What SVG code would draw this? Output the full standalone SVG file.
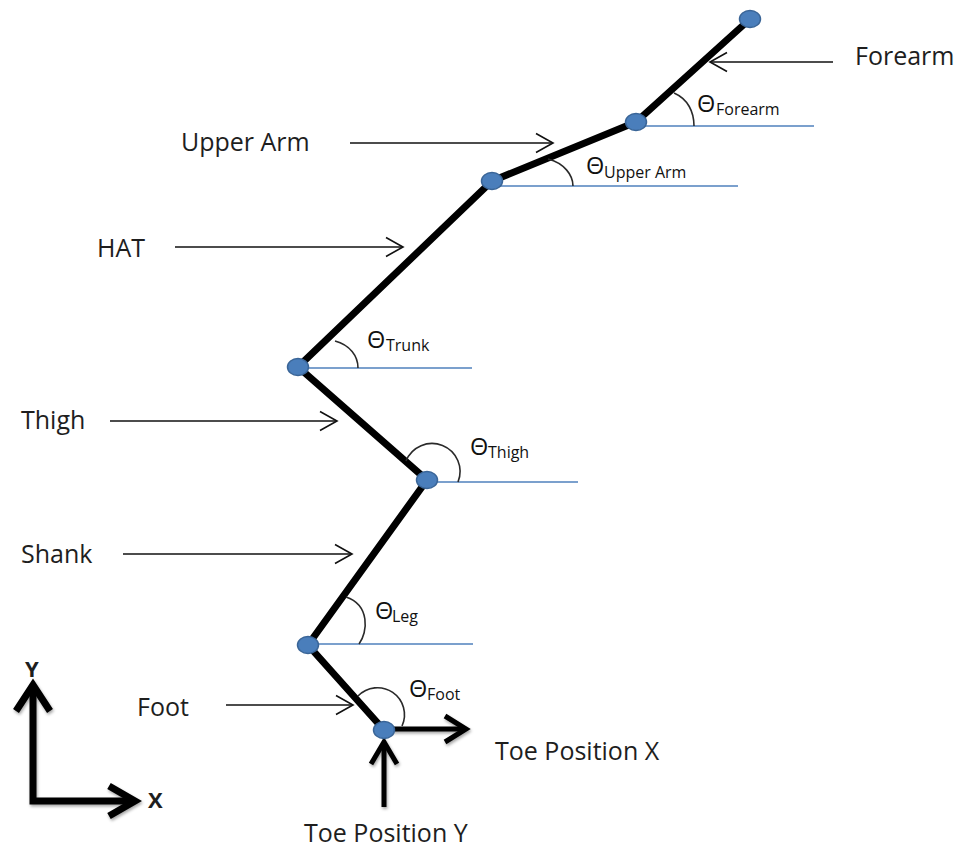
<svg xmlns="http://www.w3.org/2000/svg" width="966" height="850" viewBox="0 0 966 850">
  <style>
    .lbl { font-family: "Open Sans", "Liberation Sans", sans-serif; font-size: 25px; fill: #1e1e1e; }
    .ax { font-family: "Open Sans", "Liberation Sans", sans-serif; font-size: 22px; font-weight: bold; fill: #1e1e1e; }
    .th { font-family: "Open Sans", "Liberation Sans", sans-serif; font-size: 23.5px; fill: #111; }
    .sub { font-size: 16px; }
    .ref { stroke: #4F81BD; stroke-width: 1.6; fill: none; }
    .seg { stroke: #000; stroke-width: 7; stroke-linecap: round; fill: none; }
    .arc { stroke: #2a2a2a; stroke-width: 1.6; fill: none; }
    .joint { fill: #4A7EBB; stroke: #3A6597; stroke-width: 1.5; }
    .ptr { stroke: #111; stroke-width: 1.6; fill: none; marker-end: url(#open); }
    .thick { stroke: #000; fill: none; stroke-linecap: butt; stroke-linejoin: miter; }
  </style>
  <defs>
    <marker id="open" markerUnits="userSpaceOnUse" markerWidth="24" markerHeight="24" viewBox="-20 -12 24 24" refX="0" refY="0" orient="auto">
      <path d="M -17 -9.5 L 0 0 L -17 9.5" fill="none" stroke="#111" stroke-width="1.6"/>
    </marker>
    <filter id="shadow" x="-20%" y="-20%" width="140%" height="140%">
      <feDropShadow dx="1" dy="2" stdDeviation="1.5" flood-color="#000" flood-opacity="0.35"/>
    </filter>
  </defs>

  <!-- reference horizontals -->
  <g id="reference-lines">
    <line class="ref" x1="636" y1="126" x2="814" y2="126"/>
    <line class="ref" x1="492" y1="186" x2="738" y2="186"/>
    <line class="ref" x1="298" y1="368" x2="472" y2="368"/>
    <line class="ref" x1="427" y1="482" x2="578" y2="482"/>
    <line class="ref" x1="308" y1="644" x2="473" y2="644"/>
  </g>

  <!-- body segments -->
  <g id="segments">
    <polyline class="seg" points="750,19 636,122 492,181 298,367 427,480 308,645 384,730"/>
  </g>

  <!-- angle arcs -->
  <g id="angle-arcs">
    <path class="arc" d="M 694 126 C 694 112 688 99 674 93"/>
    <path class="arc" d="M 573 186 C 573 175 564 163 548 159"/>
    <path class="arc" d="M 358 368 C 358 356 350 345 335 341"/>
    <path class="arc" d="M 458 482 A 28 28 0 1 0 406 461"/>
    <path class="arc" d="M 359 644 C 368 632 370 605 346 597"/>
    <path class="arc" d="M 402 726 A 27 27 0 0 0 358 696"/>
  </g>

  <!-- joints -->
  <g id="joint-hand"><ellipse class="joint" cx="750" cy="19" rx="10.5" ry="8.5"/></g>
  <g id="joint-elbow"><ellipse class="joint" cx="636" cy="122" rx="10.5" ry="8.5"/></g>
  <g id="joint-shoulder"><ellipse class="joint" cx="492" cy="181" rx="10.5" ry="8.5"/></g>
  <g id="joint-hip"><ellipse class="joint" cx="298" cy="367" rx="10.5" ry="8.5"/></g>
  <g id="joint-knee"><ellipse class="joint" cx="427" cy="480" rx="10.5" ry="8.5"/></g>
  <g id="joint-ankle"><ellipse class="joint" cx="308" cy="645" rx="10.5" ry="8.5"/></g>

  <!-- connectors -->
  <g id="connectors">
    <line class="ptr" x1="833" y1="62" x2="710" y2="62"/>
    <line class="ptr" x1="350" y1="143" x2="553" y2="143"/>
    <line class="ptr" x1="175" y1="247" x2="403" y2="247"/>
    <line class="ptr" x1="110" y1="421" x2="337" y2="421"/>
    <line class="ptr" x1="123" y1="554" x2="352" y2="554"/>
    <line class="ptr" x1="226" y1="705" x2="353" y2="705"/>
    <!-- toe position arrows -->
    <g filter="url(#shadow)">
      <line class="thick" x1="384" y1="729" x2="465" y2="729" stroke-width="5"/>
      <polyline class="thick" points="445,716 466,729 445,742" stroke-width="5"/>
      <line class="thick" x1="384" y1="807" x2="384" y2="743" stroke-width="5"/>
      <polyline class="thick" points="371,764 384,742 397,764" stroke-width="5"/>
    </g>
  </g>

  <!-- toe joint drawn over arrows -->
  <g id="joint-toe"><ellipse class="joint" cx="384" cy="730" rx="10.5" ry="8.5"/></g>

  <!-- coordinate axes -->
  <g id="axes" filter="url(#shadow)">
    <polyline class="thick" points="33,686 33,801 134,801" stroke-width="7"/>
    <polyline class="thick" points="16,711 33,685 50,711" stroke-width="7"/>
    <polyline class="thick" points="109,786 135,801 109,816" stroke-width="7"/>
  </g>

  <!-- labels -->
  <g id="label-forearm"><text class="lbl" x="855" y="65">Forearm</text></g>
  <g id="label-upper-arm"><text class="lbl" x="181" y="151">Upper Arm</text></g>
  <g id="label-hat"><text class="lbl" x="97" y="257">HAT</text></g>
  <g id="label-thigh"><text class="lbl" x="21" y="429">Thigh</text></g>
  <g id="label-shank"><text class="lbl" x="21" y="563">Shank</text></g>
  <g id="label-foot"><text class="lbl" x="137" y="716">Foot</text></g>
  <g id="label-toe-x"><text class="lbl" x="495" y="760">Toe Position X</text></g>
  <g id="label-toe-y"><text class="lbl" x="304" y="842">Toe Position Y</text></g>
  <g id="label-axis-y"><text class="ax" x="25" y="677">Y</text></g>
  <g id="label-axis-x"><text class="ax" x="148" y="808">X</text></g>

  <!-- angle labels -->
  <g id="theta-forearm"><text class="th" x="697" y="112">Θ<tspan class="sub" x="716" y="115">Forearm</tspan></text></g>
  <g id="theta-upper-arm"><text class="th" x="586" y="174">Θ<tspan class="sub" x="604" y="178">Upper Arm</tspan></text></g>
  <g id="theta-trunk"><text class="th" x="367" y="348">Θ<tspan class="sub" x="386" y="351">Trunk</tspan></text></g>
  <g id="theta-thigh"><text class="th" x="470" y="455">Θ<tspan class="sub" x="488" y="458">Thigh</tspan></text></g>
  <g id="theta-leg"><text class="th" x="375" y="619">Θ<tspan class="sub" x="392" y="622">Leg</tspan></text></g>
  <g id="theta-foot"><text class="th" x="409" y="697">Θ<tspan class="sub" x="427" y="700">Foot</tspan></text></g>
</svg>
